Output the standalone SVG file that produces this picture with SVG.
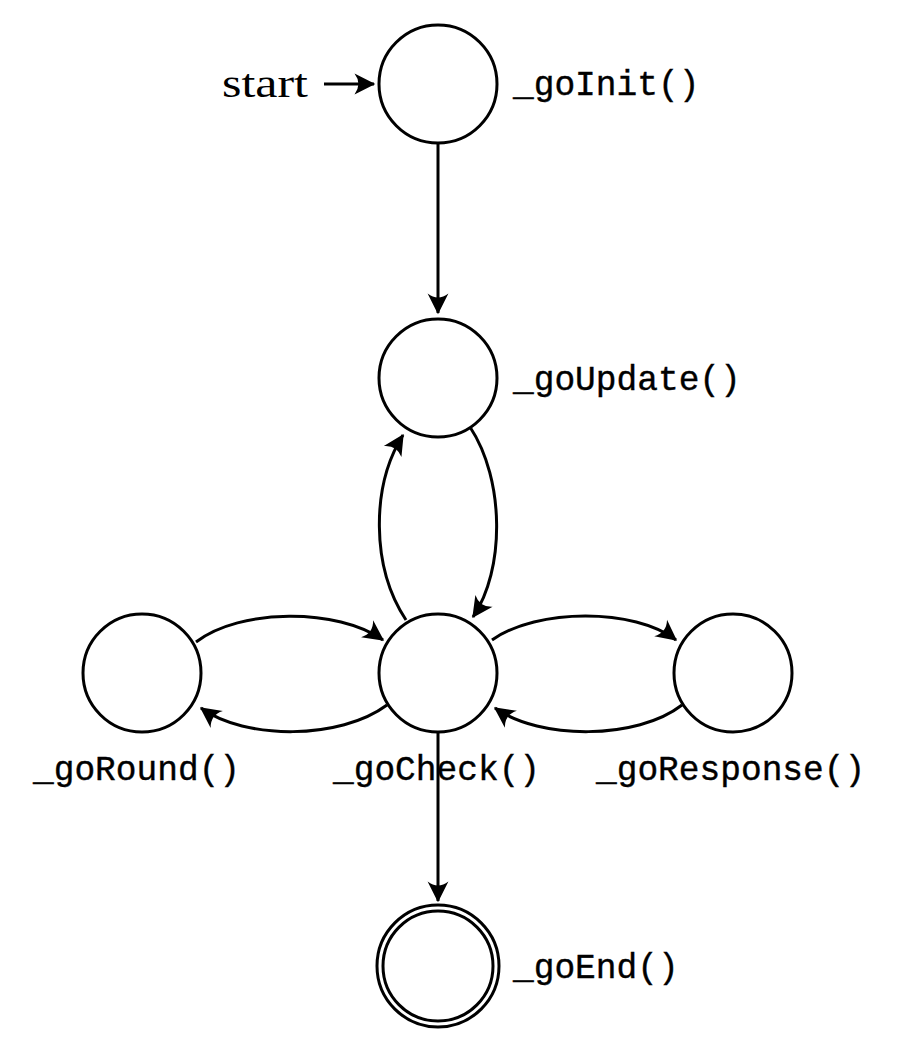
<svg xmlns="http://www.w3.org/2000/svg" width="910" height="1056" viewBox="0 0 910 1056">
<style>
.st{fill:#fff;stroke:#000;stroke-width:3}
.lb{font-family:"Liberation Mono","DejaVu Sans Mono",monospace;font-size:34.5px;fill:#000;stroke:#000;stroke-width:0.4}
.e{fill:none;stroke:#000;stroke-width:3}
</style>
<defs>
<marker id="ah" markerUnits="userSpaceOnUse" markerWidth="26" markerHeight="26" refX="0" refY="0" viewBox="-18 -10 20 20" orient="auto">
<path d="M1,0 L-15,-8 Q-9,0 -15,8 Z" fill="#000"/>
</marker>
</defs>
<rect width="910" height="1056" fill="#fff"/>
<text x="222" y="97" font-family="Liberation Serif,serif" font-size="41" textLength="86" lengthAdjust="spacingAndGlyphs">start</text>
<g id="goInit"><circle class="st" cx="438" cy="84" r="59"/><text class="lb" x="513" y="95">_goInit()</text></g>
<g id="goUpdate"><circle class="st" cx="438" cy="378" r="59"/><text class="lb" x="513" y="390">_goUpdate()</text></g>
<g id="goCheck"><circle class="st" cx="438" cy="673" r="59"/><text class="lb" x="333" y="780">_goCheck()</text></g>
<g id="goRound"><circle class="st" cx="142" cy="673" r="59"/><text class="lb" x="33" y="780">_goRound()</text></g>
<g id="goResponse"><circle class="st" cx="733" cy="673" r="59"/><text class="lb" x="596" y="780">_goResponse()</text></g>
<g id="goEnd"><circle class="st" cx="438" cy="966" r="61"/><circle class="st" cx="438" cy="966" r="55"/><text class="lb" x="513" y="978">_goEnd()</text></g>
<g id="connectors">
<path class="e" d="M324 84 L374 84" marker-end="url(#ah)"/>
<path class="e" d="M438 143 L438 313" marker-end="url(#ah)"/>
<path class="e" d="M470 427 C505 480 505 570 473 617" marker-end="url(#ah)"/>
<path class="e" d="M406 620 C371 567 371 486 403 435" marker-end="url(#ah)"/>
<path class="e" d="M196 642 C240 608 338 608 383 640" marker-end="url(#ah)"/>
<path class="e" d="M387 705 C340 740 245 740 201 708" marker-end="url(#ah)"/>
<path class="e" d="M492 640 C537 608 635 608 676 640" marker-end="url(#ah)"/>
<path class="e" d="M682 705 C637 740 540 740 495 708" marker-end="url(#ah)"/>
<path class="e" d="M438 732 L438 901" marker-end="url(#ah)"/>
</g>
</svg>
